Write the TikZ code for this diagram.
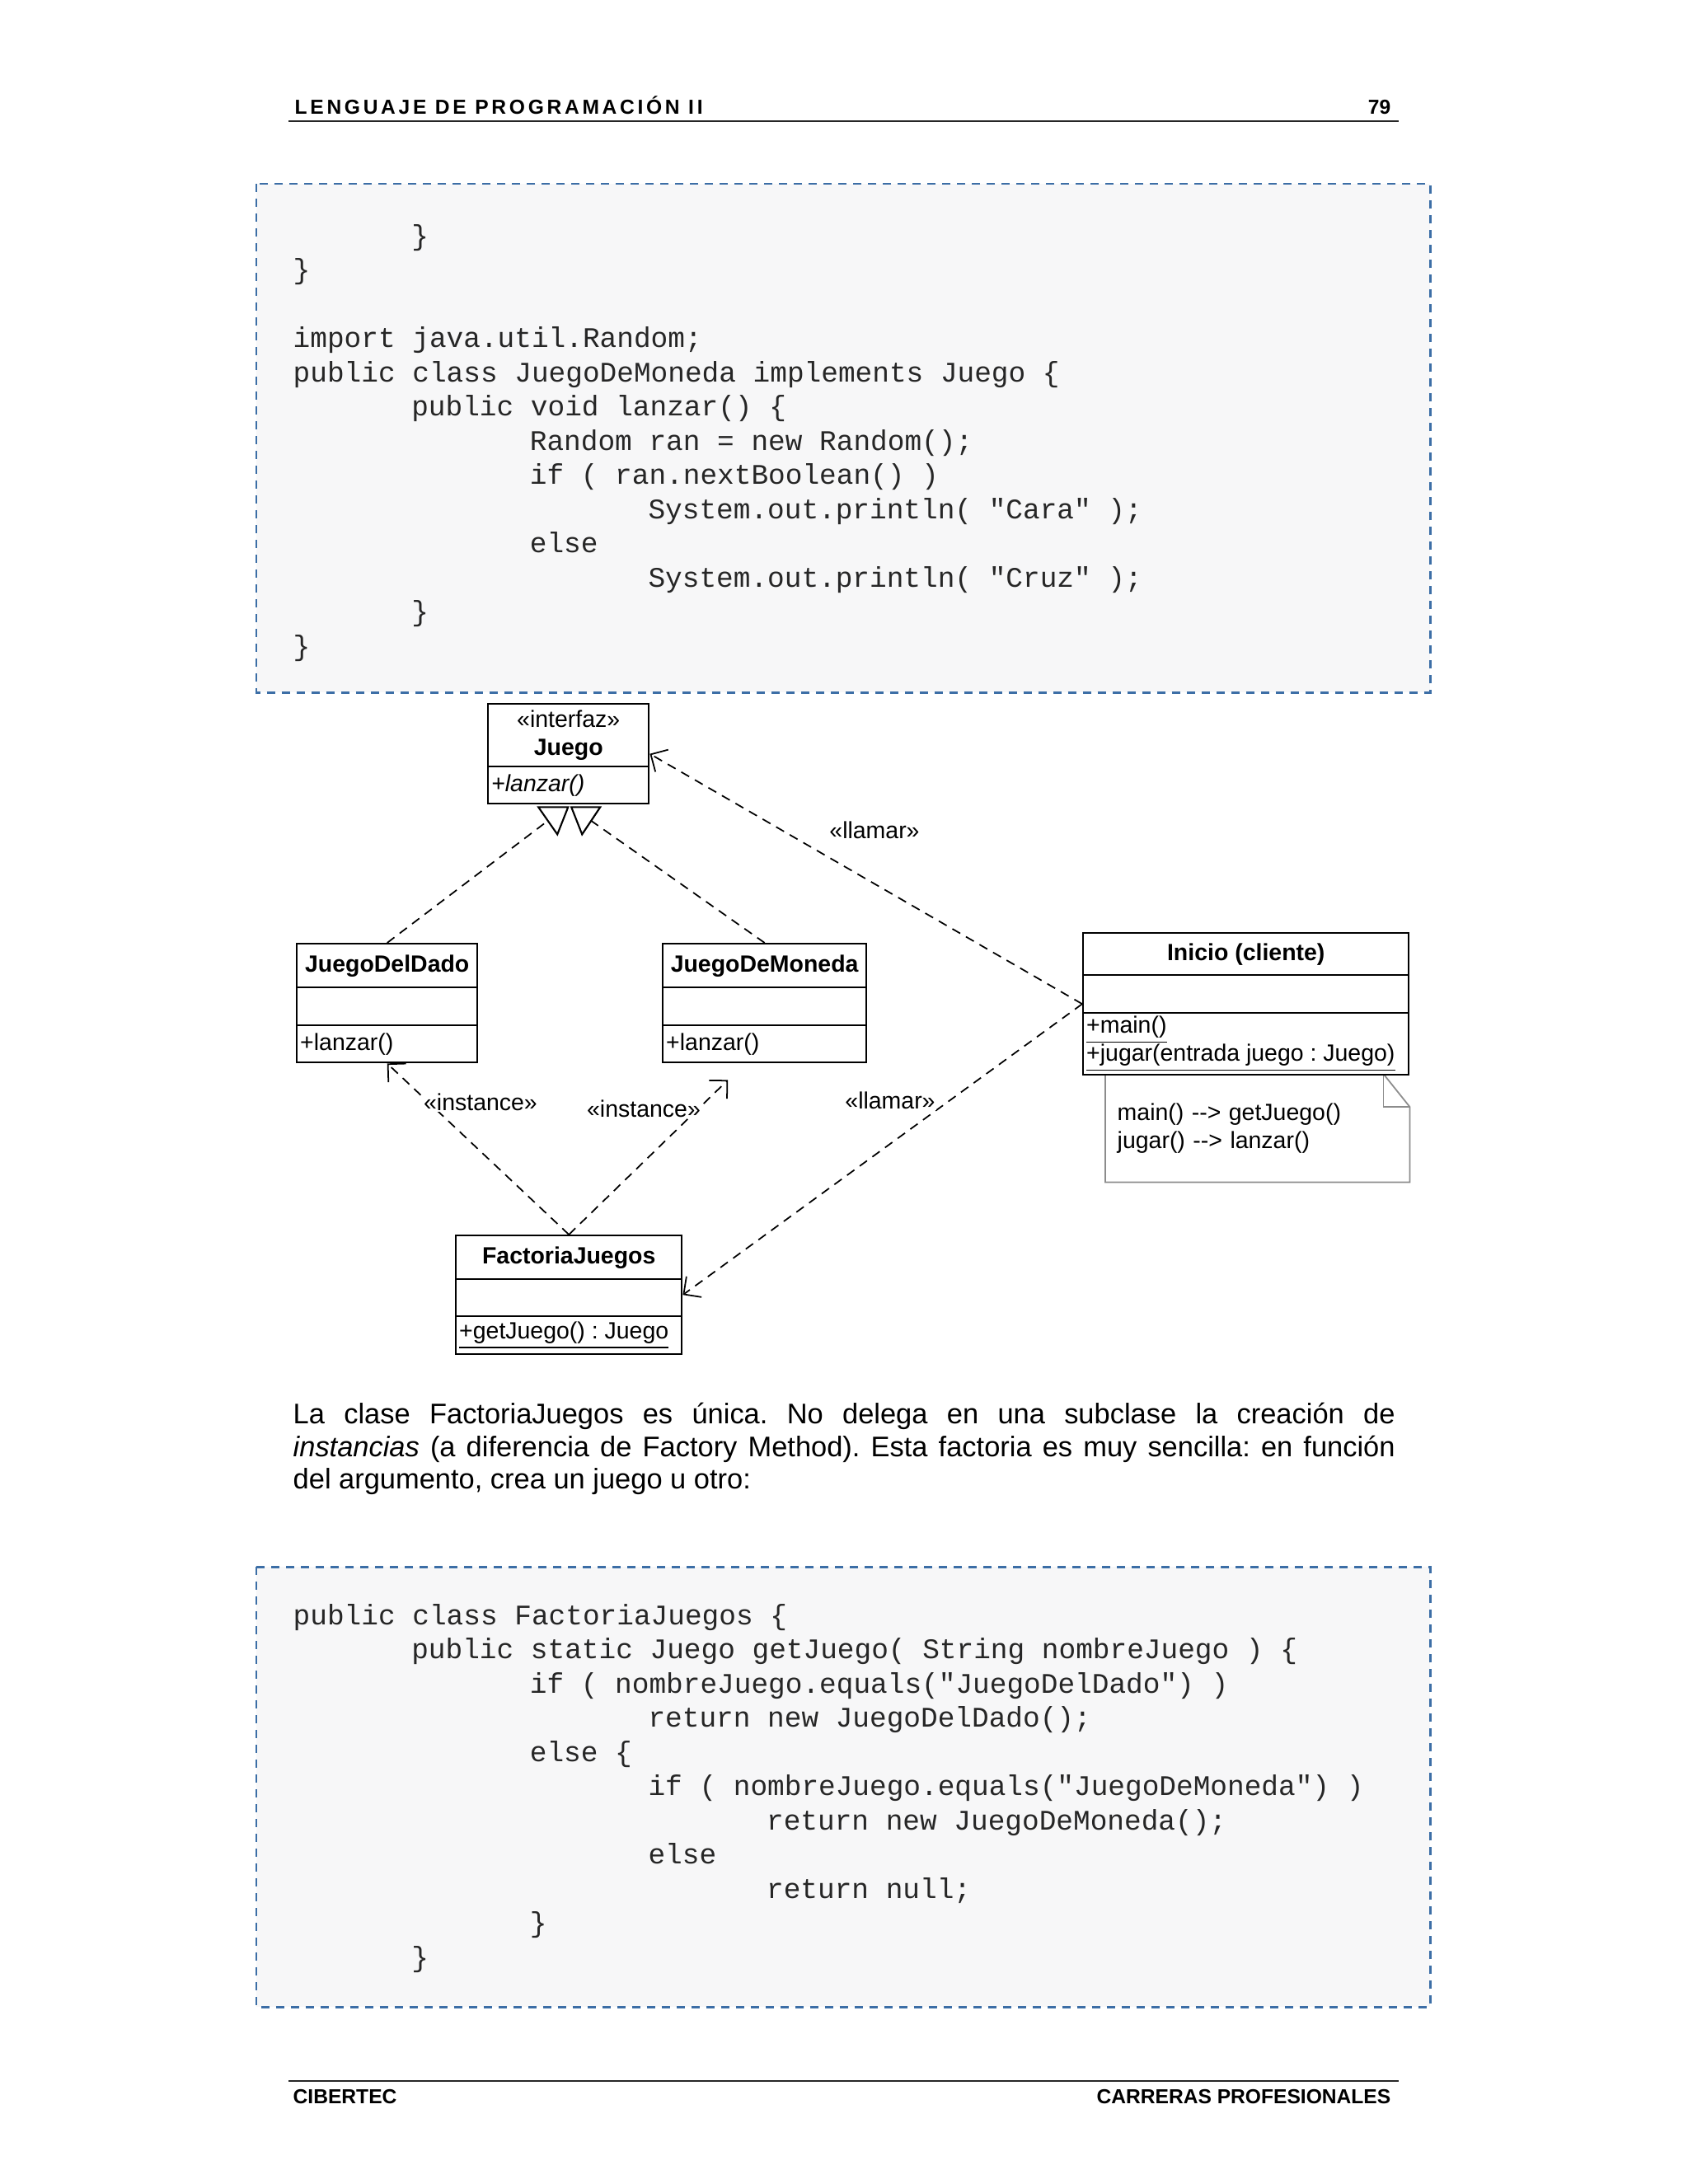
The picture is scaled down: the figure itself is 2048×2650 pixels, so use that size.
\documentclass[tikz,border=0pt]{standalone}
\usepackage{fontspec}
\setmainfont{Liberation Sans}
\setmonofont{Liberation Mono}
\usetikzlibrary{arrows.meta,calc,shapes.multipart}
\definecolor{frameblue}{HTML}{3C6EA6}
\definecolor{codebg}   {HTML}{F7F7F8}
\definecolor{codeink}  {HTML}{262626}
\definecolor{notegrey} {HTML}{8C8C8C}
\frenchspacing
\newcommand{\umlfont}{\fontsize{8.1pt}{9.7pt}\selectfont}
\newcommand{\codefont}{\fontsize{9.8pt}{11.8pt}\selectfont\ttfamily}
\newcommand{\umlc}[3]{\parbox[c][#1][c]{#2}{\centering #3}}
\newcommand{\umll}[3]{\hspace*{.4mm}\parbox[c][#1][c]{\dimexpr#2-.8mm\relax}{\raggedright #3}\hspace*{.4mm}}
\tikzset{
  cls/.style    ={rectangle split, draw, line width=0.7pt, fill=white,
                  inner sep=0pt, font=\umlfont, anchor=north west},
  nota/.style   ={anchor=north west, minimum width=36.8mm, minimum height=13mm,
                  text width=34mm, inner xsep=1.4mm, inner ysep=0pt,
                  align=left, font=\umlfont},
  noteline/.style={draw=notegrey, line width=0.5pt},
  dep/.style    ={draw, line width=0.5pt, dash pattern=on 1.1mm off 0.8mm},
  dcall/.style  ={dep, -{Straight Barb[length=1.55mm,width=3.1mm]}},
  tri/.style    ={draw, line width=0.6pt, fill=white, line join=miter},
  lbl/.style    ={font=\umlfont, fill=white, inner sep=0.5pt},
  codeln/.style ={font=\codefont, text=codeink, inner sep=0pt, anchor=base west},
  codebox/.style={draw=frameblue, fill=codebg, line width=0.85pt,
                  dash pattern=on 1mm off 0.8mm},
  txt/.style    ={font=\fontsize{9.8pt}{12pt}\selectfont, inner sep=0pt,
                  anchor=base west},
  hdr/.style    ={font=\fontsize{7pt}{8pt}\selectfont\bfseries, inner sep=0pt},
  rulehf/.style ={draw=black!85, line width=0.7pt}
}

\begin{document}
\begin{tikzpicture}[x=0.1mm,y=-0.1mm]
\fill[white] (0,0) rectangle (2048,2650);
\useasboundingbox (0,0) rectangle (2048,2650);

\node[hdr, anchor=base west] (titulo) at (357,138)
  {\addfontfeatures{LetterSpace=15}LENGUAJE DE PROGRAMACIÓN II};
\node[hdr, anchor=base east] (pagina) at (1688,138) {79};
\draw[rulehf] (350,147) -- (1697,147);

\draw[codebox] (311,223) rectangle (1735,840);
\foreach \n/\t/\s in {0/1/\},1/0/\},3/0/import java.util.Random;,
    4/0/public class JuegoDeMoneda implements Juego \{,
    5/1/public void lanzar() \{,6/2/Random ran = new Random();,
    7/2/if ( ran.nextBoolean() ),8/3/System.out.println( "Cara" );,
    9/2/else,10/3/System.out.println( "Cruz" );,11/1/\},12/0/\}}
  \node[codeln] (ca\n) at ({355+143.6*\t},{297+41.5*\n}) {\s};

\node[nota] (notaIni) at (1341,1303)
  {main() -{}-> getJuego()\\ jugar() -{}-> lanzar()};
\draw[noteline] (notaIni.north west) -- ($(notaIni.north east)+(-32,0)$)
  -- ($(notaIni.north east)+(0,40)$) -- (notaIni.south east)
  -- (notaIni.south west) -- cycle;
\draw[noteline] ($(notaIni.north east)+(-32,0)$) |- ($(notaIni.north east)+(0,40)$);

\node[cls, rectangle split parts=2] (juego) at (591,853)
  {\umlc{7.35mm}{19.5mm}{«interfaz»\\ \textbf{Juego}}
   \nodepart{two}\umll{4.25mm}{19.5mm}{\textit{+lanzar()}}};
\node[cls, rectangle split parts=3] (dado) at (359,1144)
  {\umlc{5.05mm}{21.9mm}{\textbf{JuegoDelDado}}
   \nodepart{two}\umlc{4.35mm}{21.9mm}{}
   \nodepart{three}\umll{4.25mm}{21.9mm}{+lanzar()}};
\node[cls, rectangle split parts=3] (moneda) at (803,1144)
  {\umlc{5.05mm}{24.7mm}{\textbf{JuegoDeMoneda}}
   \nodepart{two}\umlc{4.35mm}{24.7mm}{}
   \nodepart{three}\umll{4.25mm}{24.7mm}{+lanzar()}};
\node[cls, rectangle split parts=3] (inicio) at (1313,1131)
  {\umlc{4.85mm}{39.5mm}{\textbf{Inicio (cliente)}}
   \nodepart{two}\umlc{4.35mm}{39.5mm}{}
   \nodepart{three}\umll{7.25mm}{39.5mm}{\underline{+main()}\\
     \underline{+jugar(entrada juego : Juego)}}};
\node[cls, rectangle split parts=3] (factoria) at (552,1498)
  {\umlc{5.05mm}{27.4mm}{\textbf{FactoriaJuegos}}
   \nodepart{two}\umlc{4.25mm}{27.4mm}{}
   \nodepart{three}\umll{4.35mm}{27.4mm}{\underline{+getJuego() : Juego}}};

\coordinate (realL) at ($(juego.south)+(-25,19.5)$);
\coordinate (realR) at ($(juego.south)+(27.5,19.5)$);
\coordinate (monedaTip) at ($(moneda.south)+(-44.5,20)$);

\draw[dep] (dado.north) -- (realL);
\draw[dep] (moneda.north) -- (realR);
\draw[dcall] (inicio.west) -- (juego.east);
\draw[dcall] (inicio.west) -- (factoria.east);
\draw[dcall] (factoria.north) -- (dado.south);
\draw[dcall] (factoria.north) -- (monedaTip);
\draw[tri] ($(juego.south)+(-36.5,3)$) -- ($(juego.south)+(-13.5,36)$)
  -- ($(juego.south)+(-0.5,3)$) -- cycle;
\draw[tri] ($(juego.south)+(3.5,3)$) -- ($(juego.south)+(16.5,36)$)
  -- ($(juego.south)+(38.5,3)$) -- cycle;

\node[lbl] (llamarA) at (1061,1007) {«llamar»};
\node[lbl] (llamarB) at (1080,1335) {«llamar»};
\node[lbl] (instA) at (583,1337) {«instance»};
\node[lbl] (instB) at (781,1345) {«instance»};

\node[txt] (par1) at (355,1727) {\makebox[133.7mm][s]{La clase FactoriaJuegos
  es única. No delega en una subclase la creación de}};
\node[txt] (par2) at (355,1767) {\makebox[133.7mm][s]{\textit{instancias} (a
  diferencia de Factory Method). Esta factoria es muy sencilla: en función}};
\node[txt] (par3) at (355,1806) {del argumento, crea un juego u otro:};

\draw[codebox] (311,1901) rectangle (1735,2435);
\foreach \n/\t/\s in {0/0/public class FactoriaJuegos \{,
    1/1/public static Juego getJuego( String nombreJuego ) \{,
    2/2/if ( nombreJuego.equals("JuegoDelDado") ),
    3/3/return new JuegoDelDado();,4/2/else \{,
    5/3/if ( nombreJuego.equals("JuegoDeMoneda") ),
    6/4/return new JuegoDeMoneda();,7/3/else,8/4/return null;,
    9/2/\},10/1/\}}
  \node[codeln] (cb\n) at ({355+143.6*\t},{1971+41.5*\n}) {\s};

\draw[rulehf] (350,2525) -- (1697,2525);
\node[hdr, anchor=base west] (pie) at (355,2552) {CIBERTEC};
\node[hdr, anchor=base east] (carreras) at (1688,2552) {CARRERAS PROFESIONALES};
\end{tikzpicture}
\end{document}
